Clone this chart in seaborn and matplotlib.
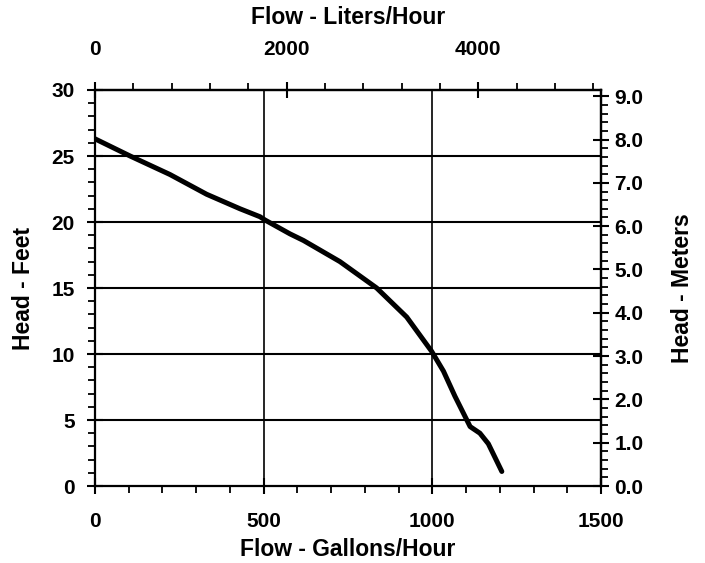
import numpy as np
import pandas as pd
import seaborn as sns
import matplotlib
matplotlib.use("Agg")
import matplotlib.pyplot as plt
from matplotlib.ticker import MultipleLocator

# pump curve
flow_gph = [0, 104, 222, 331, 430, 489, 504, 578, 618, 726, 835, 924, 998, 1033, 1067, 1112, 1141, 1166, 1206]
head_ft = [26.3, 25.0, 23.6, 22.1, 21.0, 20.4, 20.15, 19.1, 18.6, 17.0, 15.0, 12.8, 10.2, 8.7, 6.8, 4.5, 4.0, 3.2, 1.1]

ft_ticks = [0, 5, 10, 15, 20, 25, 30]
gph_ticks = [0, 500, 1000, 1500]
lph_ticks = [0, 2000, 4000]
m_ticks = [0, 1, 2, 3, 4, 5, 6, 7, 8, 9]

L_PER_GAL = 3.52  # scale as drawn on the original top axis
M_PER_FT = 0.3048

sns.set_style("ticks")
plt.rcParams['font.family'] = ['Liberation Sans', 'DejaVu Sans']
plt.rcParams['font.weight'] = 'bold'
plt.rcParams['axes.linewidth'] = 1.6
for k in ['text.color', 'axes.labelcolor', 'xtick.color', 'ytick.color', 'axes.edgecolor']:
    plt.rcParams[k] = 'black'

df = pd.DataFrame({"Flow": flow_gph, "Head": head_ft})

fig = plt.figure(figsize=(7.05, 5.63), dpi=100)
ax = fig.add_axes([95 / 705, 77 / 563, 506 / 705, 396 / 563])

for y in ft_ticks[1:-1]:
    ax.axhline(y, color="black", lw=1.5, zorder=1)
for x in gph_ticks[1:-1]:
    ax.axvline(x, color="black", lw=1.2, zorder=1)

sns.lineplot(data=df, x="Flow", y="Head", color="black", lw=3.6, ax=ax, zorder=3)

TS = 15
LS = 16.5
ax.set_xlim(0, 1500)
ax.set_ylim(0, 30)
ax.set_xticks(gph_ticks)
ax.set_yticks(ft_ticks)
ax.xaxis.set_minor_locator(MultipleLocator(100))
ax.yaxis.set_minor_locator(MultipleLocator(1))
ax.tick_params(which="major", direction="inout", length=11, width=1.5, labelsize=TS)
ax.tick_params(which="minor", direction="out", length=5, width=1.3)
ax.tick_params(axis="x", which="major", pad=13)
ax.tick_params(axis="y", which="major", pad=9)
for sp in ax.spines.values():
    sp.set_visible(True)
ax.set_xlabel("Flow - Gallons/Hour", fontsize=LS, fontweight="bold", labelpad=5)
ax.set_ylabel("Head - Feet", fontsize=LS, fontweight="bold", labelpad=12)

top = ax.secondary_xaxis("top", functions=(lambda x: x * L_PER_GAL, lambda x: x / L_PER_GAL))
top.set_xticks(lph_ticks)
top.xaxis.set_minor_locator(MultipleLocator(400))
top.tick_params(which="major", direction="inout", length=11, width=1.5, labelsize=TS, pad=17)
top.tick_params(which="minor", direction="out", length=5, width=1.3)
top.set_xlabel("Flow - Liters/Hour", fontsize=LS, fontweight="bold", labelpad=11)

right = ax.secondary_yaxis("right", functions=(lambda y: y * M_PER_FT, lambda y: y / M_PER_FT))
right.set_yticks(m_ticks)
right.set_yticklabels([f"{v:.1f}" for v in m_ticks])
right.yaxis.set_minor_locator(MultipleLocator(0.2))
right.tick_params(which="major", direction="inout", length=11, width=1.5, labelsize=TS, pad=4)
right.tick_params(which="minor", direction="out", length=5, width=1.3)
right.set_ylabel("Head - Meters", fontsize=LS, fontweight="bold", labelpad=20)

fig.savefig("out.png", dpi=100)
